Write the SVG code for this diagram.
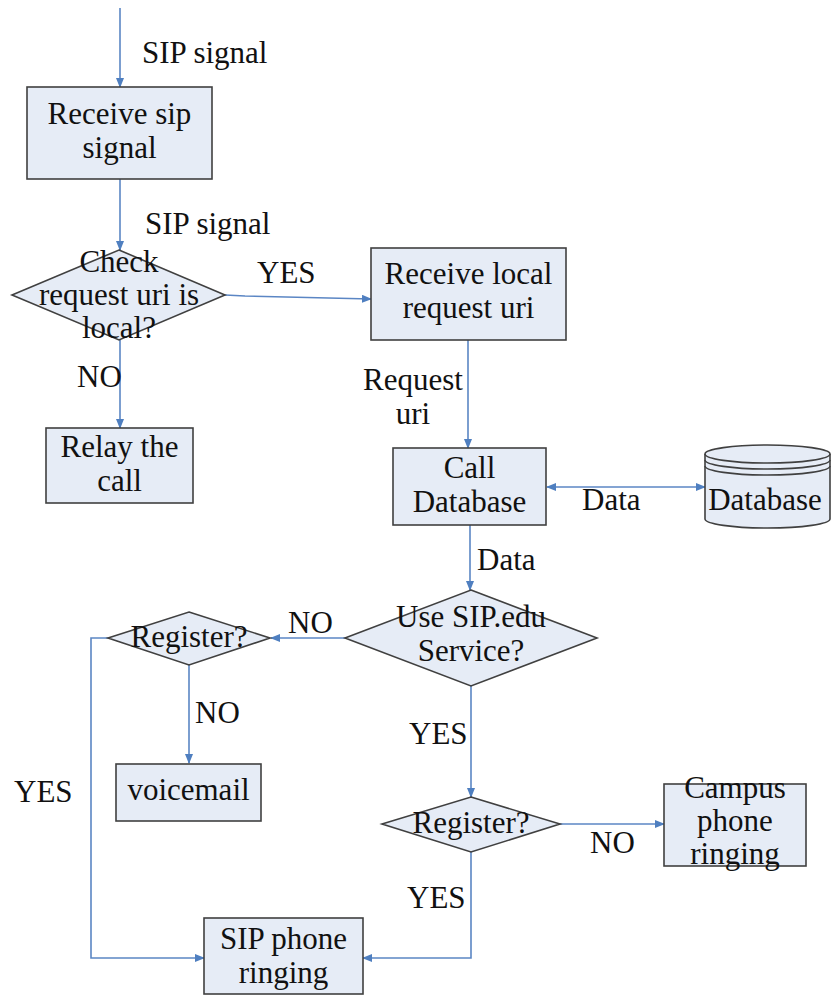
<svg xmlns="http://www.w3.org/2000/svg" width="831" height="996" viewBox="0 0 831 996" font-family="Liberation Serif, Times New Roman, serif" font-size="31">
  <style>
    .box { fill: #e6ecf6; stroke: #404040; stroke-width: 1.6; }
    .lbl { fill: #111111; }
    .mid { text-anchor: middle; }
    .conn { fill: none; stroke: #5b86c4; stroke-width: 1.6; }
    .rim { fill: none; stroke: #404040; stroke-width: 1.6; }
  </style>
  <defs>
    <marker id="arrow" markerUnits="userSpaceOnUse" markerWidth="10" markerHeight="8" refX="9" refY="4" orient="auto-start-reverse">
      <path d="M0,0 L10,4 L0,8 Z" fill="#4f7fc0"/>
    </marker>
  </defs>

  <rect width="831" height="996" fill="#ffffff"/>

  <!-- connectors -->
  <g id="connectors">
    <path class="conn" d="M120,8 V87" marker-end="url(#arrow)"/>
    <path class="conn" d="M120,179 V250" marker-end="url(#arrow)"/>
    <path class="conn" d="M225,295 L245,296 L371,299" marker-end="url(#arrow)"/>
    <path class="conn" d="M120,340 V428" marker-end="url(#arrow)"/>
    <path class="conn" d="M468,340 V448" marker-end="url(#arrow)"/>
    <path class="conn" d="M547,487 H705" marker-start="url(#arrow)" marker-end="url(#arrow)"/>
    <path class="conn" d="M470,525 V590" marker-end="url(#arrow)"/>
    <path class="conn" d="M345,638 H271" marker-end="url(#arrow)"/>
    <path class="conn" d="M189,665 V763" marker-end="url(#arrow)"/>
    <path class="conn" d="M108,638 H91 V958 H204" marker-end="url(#arrow)"/>
    <path class="conn" d="M471,686 V797" marker-end="url(#arrow)"/>
    <path class="conn" d="M560,824 H664" marker-end="url(#arrow)"/>
    <path class="conn" d="M471,852 V958 H363" marker-end="url(#arrow)"/>

    <!-- connector labels -->
    <text class="lbl" x="142" y="63">SIP signal</text>
    <text class="lbl" x="145" y="234">SIP signal</text>
    <text class="lbl" x="257" y="283">YES</text>
    <text class="lbl" x="77" y="387">NO</text>
    <text class="lbl mid" x="413" y="390">Request</text>
    <text class="lbl mid" x="413" y="424">uri</text>
    <text class="lbl" x="582" y="510">Data</text>
    <text class="lbl" x="477" y="570">Data</text>
    <text class="lbl" x="288" y="633">NO</text>
    <text class="lbl" x="195" y="723">NO</text>
    <text class="lbl" x="14" y="802">YES</text>
    <text class="lbl" x="409" y="744">YES</text>
    <text class="lbl" x="590" y="853">NO</text>
    <text class="lbl" x="407" y="908">YES</text>
  </g>

  <g id="receive-sip">
    <rect class="box" x="27" y="87" width="185" height="92"/>
    <text class="lbl mid" x="119.5" y="124">Receive sip</text>
    <text class="lbl mid" x="119.5" y="158">signal</text>
  </g>

  <g id="check-local">
    <polygon class="box" points="119,250 225,295 119,340 12,295"/>
    <text class="lbl mid" x="119" y="272">Check</text>
    <text class="lbl mid" x="119" y="305">request uri is</text>
    <text class="lbl mid" x="119" y="338">local?</text>
  </g>

  <g id="receive-local">
    <rect class="box" x="371" y="248" width="195" height="92"/>
    <text class="lbl mid" x="468.5" y="284">Receive local</text>
    <text class="lbl mid" x="468.5" y="318">request uri</text>
  </g>

  <g id="relay">
    <rect class="box" x="46" y="428" width="147" height="75"/>
    <text class="lbl mid" x="119.5" y="457">Relay the</text>
    <text class="lbl mid" x="119.5" y="491">call</text>
  </g>

  <g id="call-database">
    <rect class="box" x="393" y="448" width="153" height="77"/>
    <text class="lbl mid" x="469.5" y="478">Call</text>
    <text class="lbl mid" x="469.5" y="512">Database</text>
  </g>

  <g id="database">
    <path class="box" d="M705,454 A62.5,9 0 0 1 830,454 V519 A62.5,9 0 0 1 705,519 Z"/>
    <path class="rim" d="M705,454 A62.5,9 0 0 0 830,454"/>
    <path class="rim" d="M705,460 A62.5,9 0 0 0 830,460"/>
    <path class="rim" d="M705,466 A62.5,9 0 0 0 830,466"/>
    <text class="lbl mid" x="765" y="510">Database</text>
  </g>

  <g id="use-sipedu">
    <polygon class="box" points="471,590 597,638 471,686 345,638"/>
    <text class="lbl mid" x="471" y="627">Use SIP.edu</text>
    <text class="lbl mid" x="471" y="661">Service?</text>
  </g>

  <g id="register-left">
    <polygon class="box" points="189,612 270,638 189,665 108,638"/>
    <text class="lbl mid" x="189" y="647">Register?</text>
  </g>

  <g id="voicemail">
    <rect class="box" x="116" y="764" width="145" height="57"/>
    <text class="lbl mid" x="188.5" y="800">voicemail</text>
  </g>

  <g id="register-right">
    <polygon class="box" points="471,797 560,824 471,852 382,824"/>
    <text class="lbl mid" x="471" y="833">Register?</text>
  </g>

  <g id="campus-phone">
    <rect class="box" x="664" y="784" width="142" height="82"/>
    <text class="lbl mid" x="735" y="798">Campus</text>
    <text class="lbl mid" x="735" y="831">phone</text>
    <text class="lbl mid" x="735" y="864">ringing</text>
  </g>

  <g id="sip-phone">
    <rect class="box" x="204" y="918" width="159" height="76"/>
    <text class="lbl mid" x="283.5" y="949">SIP phone</text>
    <text class="lbl mid" x="283.5" y="983">ringing</text>
  </g>
</svg>
